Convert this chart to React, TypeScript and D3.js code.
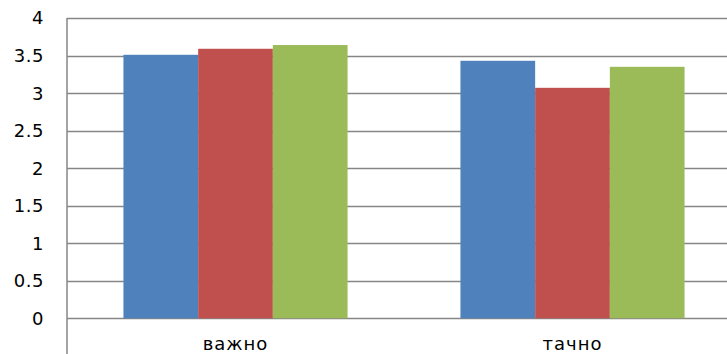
import React from "react";
import * as d3 from "d3";

const categories = ["важно", "тачно"];
const seriesNames = ["Серија 1", "Серија 2", "Серија 3"];
const series1 = [3.51, 3.43];
const series2 = [3.59, 3.07];
const series3 = [3.64, 3.35];
const yTicks = [0, 0.5, 1, 1.5, 2, 2.5, 3, 3.5, 4];
const colors = ["#4F81BD", "#C0504D", "#9BBB59"];

const W = 727;
const H = 354;

export default function App() {
  const allSeries = [series1, series2, series3];
  const x0 = d3
    .scaleBand<string>()
    .domain(categories)
    .range([67, 741])
    .paddingInner(0.335)
    .paddingOuter(0.1675);
  const x1 = d3
    .scaleBand<number>()
    .domain(d3.range(allSeries.length))
    .range([0, x0.bandwidth()]);
  const y = d3.scaleLinear().domain([0, 4]).range([318.3, 18]);
  const font = "'DejaVu Sans', Verdana, sans-serif";

  return (
    <svg
      width={W}
      height={H}
      style={{ position: "absolute", left: 0, top: 0, background: "#fff" }}
    >
      {yTicks.map((t) => (
        <line
          key={"g" + t}
          x1={67}
          x2={W}
          y1={Math.round(y(t)) + 0.5}
          y2={Math.round(y(t)) + 0.5}
          stroke="#868686"
          strokeWidth={1.3}
        />
      ))}
      {categories.map((c, ci) =>
        allSeries.map((s, si) => (
          <rect
            key={c + si}
            x={(x0(c) as number) + (x1(si) as number)}
            y={y(s[ci])}
            width={x1.bandwidth()}
            height={y(0) - y(s[ci])}
            fill={colors[si]}
          >
            <title>{seriesNames[si]}</title>
          </rect>
        ))
      )}
      <line x1={67} x2={67} y1={18} y2={H} stroke="#868686" strokeWidth={1.5} />
      {yTicks.map((t) => (
        <text
          key={"t" + t}
          x={44}
          y={y(t)}
          dy="0.36em"
          textAnchor="end"
          fontFamily={font}
          fontSize={18}
          letterSpacing={0.5}
          fill="#000"
        >
          {String(t)}
        </text>
      ))}
      {categories.map((c) => (
        <text
          key={"c" + c}
          x={(x0(c) as number) + x0.bandwidth() / 2}
          y={350}
          textAnchor="middle"
          fontFamily={font}
          fontSize={18}
          letterSpacing={1}
          fill="#000"
        >
          {c}
        </text>
      ))}
    </svg>
  );
}
